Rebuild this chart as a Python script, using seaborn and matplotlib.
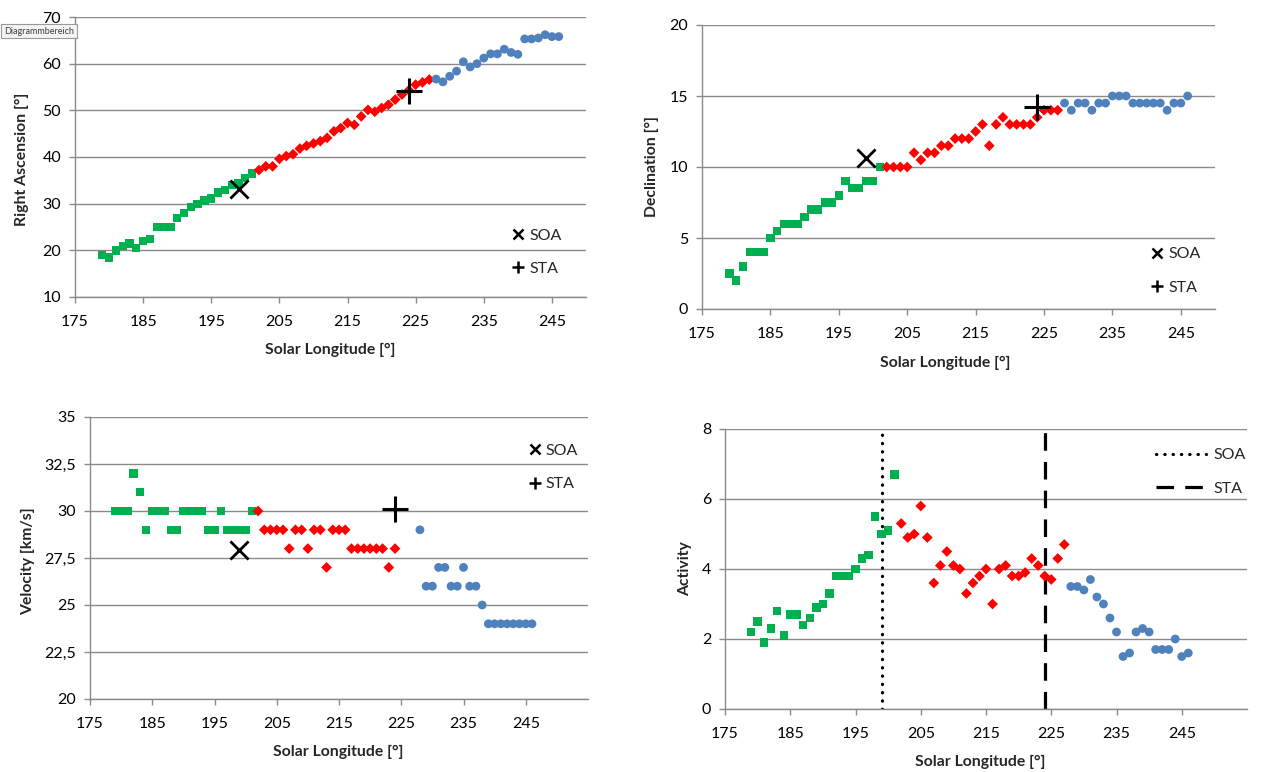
import matplotlib
matplotlib.use('Agg')
import matplotlib.pyplot as plt
from matplotlib.lines import Line2D
import pandas as pd
import seaborn as sns

# solar longitude of each nightly value [deg]
lon_green = [179, 180, 181, 182, 183, 184, 185, 186, 187, 188, 189, 190,
             191, 192, 193, 194, 195, 196, 197, 198, 199, 200, 201]
lon_red = [202, 203, 204, 205, 206, 207, 208, 209, 210, 211, 212, 213, 214,
           215, 216, 217, 218, 219, 220, 221, 222, 223, 224, 225, 226, 227]
lon_red_vel = [202, 203, 204, 205, 206, 207, 208, 209, 210, 211, 212, 213,
               214, 215, 216, 217, 218, 219, 220, 221, 222, 223, 224]
lon_blue = [228, 229, 230, 231, 232, 233, 234, 235, 236, 237, 238, 239,
            240, 241, 242, 243, 244, 245, 246]

# right ascension [deg]
ra_green = [19, 18.5, 20, 21, 21.5, 20.5, 22, 22.5, 25, 25, 25, 27, 28, 29.3,
            30, 30.7, 31.1, 32.4, 32.9, 34, 34.5, 35.5, 36.5]
ra_red = [37.2, 38, 38, 39.6, 40.2, 40.6, 41.8, 42.4, 42.9, 43.4, 44.1, 45.5,
          46.2, 47.3, 46.9, 48.7, 50.1, 49.7, 50.5, 51.2, 52.3, 53.4, 54.3,
          55.5, 56, 56.6]
ra_blue = [56.7, 56.1, 57.3, 58.4, 60.4, 59.3, 60, 61.2, 62.1, 62.1, 63.1,
           62.4, 62, 65.3, 65.3, 65.5, 66.2, 65.8, 65.8]

# declination [deg]
dec_green = [2.5, 2, 3, 4, 4, 4, 5, 5.5, 6, 6, 6, 6.5, 7, 7, 7.5, 7.5, 8, 9,
             8.5, 8.5, 9, 9, 10]
dec_red = [10, 10, 10, 10, 11, 10.5, 11, 11, 11.5, 11.5, 12, 12, 12, 12.5, 13,
           11.5, 13, 13.5, 13, 13, 13, 13, 13.5, 14, 14, 14]
dec_blue = [14.5, 14, 14.5, 14.5, 14, 14.5, 14.5, 15, 15, 15, 14.5, 14.5,
            14.5, 14.5, 14.5, 14, 14.5, 14.5, 15]

# geocentric velocity [km/s]
vel_green = [30, 30, 30, 32, 31, 29, 30, 30, 30, 29, 29, 30, 30, 30, 30, 29,
             29, 30, 29, 29, 29, 29, 30]
vel_red = [30, 29, 29, 29, 29, 28, 29, 29, 28, 29, 29, 27, 29, 29, 29, 28, 28,
           28, 28, 28, 28, 27, 28]
vel_blue = [29, 26, 26, 27, 27, 26, 26, 27, 26, 26, 25, 24, 24, 24, 24, 24,
            24, 24, 24]
vel_ticks = [20, 22.5, 25, 27.5, 30, 32.5, 35]
vel_ticklabels = ['20', '22,5', '25', '27,5', '30', '32,5', '35']

# activity
act_green = [2.2, 2.5, 1.9, 2.3, 2.8, 2.1, 2.7, 2.7, 2.4, 2.6, 2.9, 3.0, 3.3,
             3.8, 3.8, 3.8, 4.0, 4.3, 4.4, 5.5, 5.0, 5.1, 6.7]
act_red = [5.3, 4.9, 5.0, 5.8, 4.9, 3.6, 4.1, 4.5, 4.1, 4.0, 3.3, 3.6, 3.8,
           4.0, 3.0, 4.0, 4.1, 3.8, 3.8, 3.9, 4.3, 4.1, 3.8, 3.7, 4.3, 4.7]
act_blue = [3.5, 3.5, 3.4, 3.7, 3.2, 3.0, 2.6, 2.2, 1.5, 1.6, 2.2, 2.3, 2.2,
            1.7, 1.7, 1.7, 2.0, 1.5, 1.6]

# SOA / STA reference points
soa_lon, sta_lon = 199, 224
soa_ra, sta_ra = 33.1, 54.1
soa_dec, sta_dec = 10.6, 14.2
soa_vel, sta_vel = 27.9, 30.1

GREEN, RED, BLUE = '#00b050', '#ff0000', '#4f81bd'
GRID = '#8a8a8a'
W, H = 1268, 772

sns.set_style('white')
plt.rcParams['font.family'] = ['Lato', 'DejaVu Sans']


def make_frame(groups):
    rows = []
    for name, lons, vals in groups:
        rows += [(name, l, v) for l, v in zip(lons, vals)]
    return pd.DataFrame(rows, columns=['group', 'lon', 'val'])


def px_axes(fig, x0, y0, x1, y1):
    return fig.add_axes([x0 / W, 1 - y1 / H, (x1 - x0) / W, (y1 - y0) / H])


def draw_points(ax, df):
    sns.scatterplot(data=df, x='lon', y='val', hue='group', style='group',
                    palette={'g': GREEN, 'r': RED, 'b': BLUE},
                    markers={'g': 's', 'r': 'D', 'b': 'o'},
                    size='group', sizes={'g': 36, 'r': 30, 'b': 40},
                    linewidth=0, legend=False, ax=ax, zorder=3)


def style_axes(ax, xmax, yticks, ylabels, xlabel, ylabel, xlab_pos, ylab_pos):
    ax.set_xlim(175, xmax)
    ax.set_xticks(list(range(175, xmax, 10)))
    ax.set_ylim(yticks[0], yticks[-1])
    ax.set_yticks(yticks)
    ax.set_yticklabels(ylabels)
    for s in ['top', 'right']:
        ax.spines[s].set_visible(False)
    for s in ['left', 'bottom']:
        ax.spines[s].set_color(GRID)
        ax.spines[s].set_linewidth(1.0)
    ax.yaxis.grid(True, color=GRID, linewidth=1.0)
    ax.xaxis.grid(False)
    ax.set_axisbelow(True)
    ax.tick_params(axis='both', direction='out', length=4, width=1,
                   color=GRID, labelsize=11.5, labelcolor='black',
                   bottom=True, left=True)
    ax.tick_params(axis='x', pad=9)
    ax.tick_params(axis='y', pad=6)
    ax.set_xlabel(xlabel, fontsize=11.3, fontweight='bold', va='center')
    ax.set_ylabel(ylabel, fontsize=11.3, fontweight='bold', va='center')
    ax.xaxis.set_label_coords(*xlab_pos)
    ax.yaxis.set_label_coords(*ylab_pos)


def marker_legend(ax, anchor):
    handles = [Line2D([], [], color='black', marker='x', linestyle='none',
                      markersize=7, markeredgewidth=1.8),
               Line2D([], [], color='black', marker='+', linestyle='none',
                      markersize=8, markeredgewidth=1.8)]
    ax.legend(handles, ['SOA', 'STA'], loc='upper left', bbox_to_anchor=anchor,
              frameon=False, fontsize=11.5, handlelength=0.8, handletextpad=0.3,
              labelspacing=1.2, borderpad=0, borderaxespad=0)


def mark_soa_sta(ax, soa_y, sta_y):
    sns.scatterplot(x=[soa_lon], y=[soa_y], marker='x', s=170, color='black',
                    linewidth=2.0, ax=ax, zorder=4)
    sns.scatterplot(x=[sta_lon], y=[sta_y], marker='+', s=330, color='black',
                    linewidth=2.2, ax=ax, zorder=4)


fig = plt.figure(figsize=(W / 100, H / 100), dpi=100)

# Right ascension
ax1 = px_axes(fig, 75, 17, 586, 297)
draw_points(ax1, make_frame([('g', lon_green, ra_green), ('r', lon_red, ra_red),
                             ('b', lon_blue, ra_blue)]))
mark_soa_sta(ax1, soa_ra, sta_ra)
style_axes(ax1, 250, [10, 20, 30, 40, 50, 60, 70],
           ['10', '20', '30', '40', '50', '60', '70'],
           'Solar Longitude [°]', 'Right Ascension [°]',
           (0.5, -0.19), (-0.104, 0.49))
marker_legend(ax1, (0.855, 0.245))

# Declination
ax2 = px_axes(fig, 702, 25, 1215, 309)
draw_points(ax2, make_frame([('g', lon_green, dec_green), ('r', lon_red, dec_red),
                             ('b', lon_blue, dec_blue)]))
mark_soa_sta(ax2, soa_dec, sta_dec)
style_axes(ax2, 250, [0, 5, 10, 15, 20], ['0', '5', '10', '15', '20'],
           'Solar Longitude [°]', 'Declination [°]',
           (0.475, -0.19), (-0.097, 0.5))
marker_legend(ax2, (0.875, 0.218))

# Velocity
ax3 = px_axes(fig, 90, 417, 588, 699)
draw_points(ax3, make_frame([('g', lon_green, vel_green),
                             ('r', lon_red_vel, vel_red),
                             ('b', lon_blue, vel_blue)]))
mark_soa_sta(ax3, soa_vel, sta_vel)
style_axes(ax3, 255, vel_ticks, vel_ticklabels,
           'Solar Longitude [°]', 'Velocity [km/s]',
           (0.498, -0.188), (-0.124, 0.49))
marker_legend(ax3, (0.88, 0.905))

# Activity
ax4 = px_axes(fig, 725, 429, 1247, 709)
draw_points(ax4, make_frame([('g', lon_green, act_green), ('r', lon_red, act_red),
                             ('b', lon_blue, act_blue)]))
ax4.axvline(soa_lon, color='black', linewidth=2.3,
            linestyle=(0, (0.1, 2.5)), dash_capstyle='round', zorder=2)
ax4.axvline(sta_lon, color='black', linewidth=2.3,
            linestyle=(0, (5.5, 3.5)), zorder=2)
style_axes(ax4, 255, [0, 2, 4, 6, 8], ['0', '2', '4', '6', '8'],
           'Solar Longitude [°]', 'Activity',
           (0.488, -0.19), (-0.076, 0.5))
line_handles = [Line2D([], [], color='black', linewidth=2.3,
                       linestyle=(0, (0.1, 2.5)), dash_capstyle='round'),
                Line2D([], [], color='black', linewidth=2.3,
                       linestyle=(0, (5.5, 3.5)))]
ax4.legend(line_handles, ['SOA', 'STA'], loc='upper left',
           bbox_to_anchor=(0.826, 0.932), frameon=False, fontsize=11.5,
           handlelength=3.1, handletextpad=0.5, labelspacing=1.2,
           borderpad=0, borderaxespad=0)

# Excel tooltip left on the chart area
fig.text(4 / W, 1 - 31 / H, 'Diagrammbereich', fontsize=6.5, color='#404040',
         va='center', ha='left',
         bbox=dict(boxstyle='square,pad=0.3', facecolor='#f4f4f4',
                   edgecolor='#9a9a9a', linewidth=0.8))

fig.savefig('out.png', dpi=100)
